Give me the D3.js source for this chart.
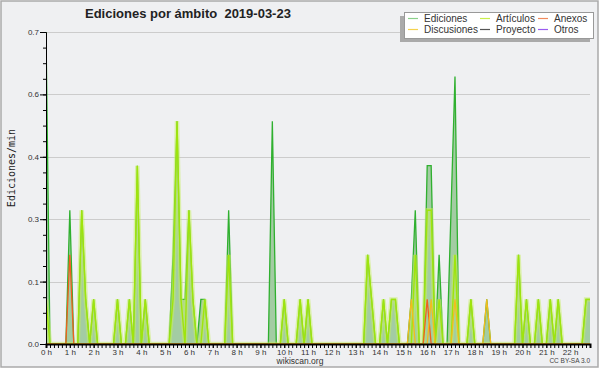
<!DOCTYPE html>
<html>
<head>
<meta charset="utf-8">
<script src="https://cdn.jsdelivr.net/npm/d3@7"></script>
<style>
  body { margin: 0; background: #fff; }
  svg { display: block; }
</style>
</head>
<body>
<div id="chart"></div>
<script>
const width = 600;
const height = 370;

// edits per minute, one value per 10-minute slot (00:00 .. 22:50)
const ediciones = [
  0.7, 0, 0, 0, 0, 0, 0.3, 0, 0, 0.3, 0.1, 0,
  0.1, 0, 0, 0, 0, 0, 0.1, 0, 0, 0.1, 0, 0.4,
  0, 0.1, 0, 0, 0, 0, 0, 0, 0.2, 0.5, 0.1, 0.1,
  0.3, 0.1, 0, 0.1, 0.1, 0, 0, 0, 0, 0, 0.3, 0,
  0, 0, 0, 0, 0, 0, 0, 0, 0, 0.5, 0, 0,
  0.1, 0, 0, 0, 0.1, 0, 0.1, 0, 0, 0, 0, 0,
  0, 0, 0, 0, 0, 0, 0, 0, 0, 0.2, 0.1, 0,
  0, 0.1, 0, 0.1, 0.1, 0, 0, 0, 0.1, 0.3, 0, 0,
  0.4, 0.4, 0, 0.2, 0, 0, 0.3, 0.6, 0, 0, 0, 0.1,
  0, 0, 0, 0.1, 0, 0, 0, 0, 0, 0, 0, 0.2,
  0, 0.1, 0, 0, 0.1, 0, 0, 0.1, 0, 0.1, 0, 0,
  0, 0, 0, 0, 0.1, 0.1
];
const articulos = [
  0.1, 0, 0, 0, 0, 0, 0, 0, 0, 0.3, 0.1, 0,
  0.1, 0, 0, 0, 0, 0, 0.1, 0, 0, 0.1, 0, 0.4,
  0, 0.1, 0, 0, 0, 0, 0, 0, 0.1, 0.5, 0.1, 0,
  0.3, 0.1, 0, 0, 0.1, 0, 0, 0, 0, 0, 0.2, 0,
  0, 0, 0, 0, 0, 0, 0, 0, 0, 0, 0, 0,
  0.1, 0, 0, 0, 0.1, 0, 0.1, 0, 0, 0, 0, 0,
  0, 0, 0, 0, 0, 0, 0, 0, 0, 0.2, 0.1, 0,
  0, 0.1, 0, 0.1, 0.1, 0, 0, 0, 0, 0.2, 0, 0,
  0.3, 0.3, 0, 0.1, 0, 0, 0, 0.2, 0, 0, 0, 0.1,
  0, 0, 0, 0, 0, 0, 0, 0, 0, 0, 0, 0.2,
  0, 0.1, 0, 0, 0.1, 0, 0, 0.1, 0, 0.1, 0, 0,
  0, 0, 0, 0, 0.1, 0.1
];
const anexos = [
  0, 0, 0, 0, 0, 0, 0.2, 0, 0, 0, 0, 0,
  0, 0, 0, 0, 0, 0, 0, 0, 0, 0, 0, 0,
  0, 0, 0, 0, 0, 0, 0, 0, 0, 0, 0, 0,
  0, 0, 0, 0, 0, 0, 0, 0, 0, 0, 0, 0,
  0, 0, 0, 0, 0, 0, 0, 0, 0, 0, 0, 0,
  0, 0, 0, 0, 0, 0, 0, 0, 0, 0, 0, 0,
  0, 0, 0, 0, 0, 0, 0, 0, 0, 0, 0, 0,
  0, 0, 0, 0, 0, 0, 0, 0, 0, 0, 0, 0,
  0.1, 0, 0, 0, 0, 0, 0, 0, 0, 0, 0, 0,
  0, 0, 0, 0, 0, 0, 0, 0, 0, 0, 0, 0,
  0, 0, 0, 0, 0, 0, 0, 0, 0, 0, 0, 0,
  0, 0, 0, 0, 0, 0
];
const discusiones = [
  0, 0, 0, 0, 0, 0, 0, 0, 0, 0, 0, 0,
  0, 0, 0, 0, 0, 0, 0, 0, 0, 0, 0, 0,
  0, 0, 0, 0, 0, 0, 0, 0, 0, 0, 0, 0,
  0, 0, 0, 0, 0, 0, 0, 0, 0, 0, 0, 0,
  0, 0, 0, 0, 0, 0, 0, 0, 0, 0, 0, 0,
  0, 0, 0, 0, 0, 0, 0, 0, 0, 0, 0, 0,
  0, 0, 0, 0, 0, 0, 0, 0, 0, 0, 0, 0,
  0, 0, 0, 0, 0, 0, 0, 0, 0.1, 0, 0, 0,
  0, 0.1, 0, 0, 0, 0, 0, 0.1, 0, 0, 0, 0,
  0, 0, 0, 0.1, 0, 0, 0, 0, 0, 0, 0, 0,
  0, 0, 0, 0, 0, 0, 0, 0, 0, 0, 0, 0,
  0, 0, 0, 0, 0, 0
];
// no edits for these two on that day
const proyecto = [];
const otros = [];

const hourLabels = ["0 h", "1 h", "2 h", "3 h", "4 h", "5 h", "6 h", "7 h", "8 h", "9 h", "10 h", "11 h",
  "12 h", "13 h", "14 h", "15 h", "16 h", "17 h", "18 h", "19 h", "20 h", "21 h", "22 h"];
const yTicks = [0, 0.14, 0.28, 0.42, 0.56, 0.7];

const legendItems = [
  { name: "Ediciones", color: "#8ad08a" },
  { name: "Artículos", color: "#c9ee4c" },
  { name: "Anexos", color: "#f08a5c" },
  { name: "Discusiones", color: "#f5d24e" },
  { name: "Proyecto", color: "#555555" },
  { name: "Otros", color: "#9a5cf0" }
];

const margin = { left: 46, right: 10, top: 32, bottom: 26 };
const plotRight = 590;
const plotBottom = 344;

const svg = d3.select("#chart")
  .append("svg")
  .attr("width", width)
  .attr("height", height);

// frame
svg.append("rect")
  .attr("x", 1).attr("y", 1)
  .attr("width", 597).attr("height", 366)
  .attr("fill", "#eff0f2")
  .attr("stroke", "#aaaaaa")
  .attr("stroke-width", 1.5);

const x = d3.scaleLinear()
  .domain([0, ediciones.length - 1])
  .range([margin.left, plotRight]);

const y = d3.scaleLinear()
  .domain([0, 0.7])
  .range([plotBottom, margin.top]);

// horizontal grid
svg.append("g")
  .selectAll("line")
  .data(yTicks.filter(d => d > 0))
  .join("line")
  .attr("x1", margin.left)
  .attr("x2", plotRight)
  .attr("y1", d => Math.round(y(d)) + 0.5)
  .attr("y2", d => Math.round(y(d)) + 0.5)
  .attr("stroke", "#cccccc")
  .attr("stroke-width", 1);

svg.append("clipPath")
  .attr("id", "plotclip")
  .append("rect")
  .attr("x", margin.left).attr("y", margin.top - 1)
  .attr("width", plotRight - margin.left).attr("height", plotBottom - margin.top + 1);

const plot = svg.append("g").attr("clip-path", "url(#plotclip)");

const area = d3.area()
  .x((d, i) => x(i))
  .y0(y(0))
  .y1(d => y(d));

const line = d3.line()
  .x((d, i) => x(i))
  .y(d => y(d));

// total edits, filled
plot.append("path")
  .datum(ediciones)
  .attr("d", area)
  .attr("fill", "#a3cca3");

plot.append("path")
  .datum(ediciones)
  .attr("d", line)
  .attr("fill", "none")
  .attr("stroke", "#2fb02f")
  .attr("stroke-width", 1.3);

// articles: soft glow + bright core
plot.append("path")
  .datum(articulos)
  .attr("d", line)
  .attr("fill", "none")
  .attr("stroke", "#c8f060")
  .attr("stroke-opacity", 0.5)
  .attr("stroke-width", 4.5);

plot.append("path")
  .datum(articulos)
  .attr("d", line)
  .attr("fill", "none")
  .attr("stroke", "#9fe40c")
  .attr("stroke-width", 1.4);

const others = [
  { data: anexos, color: "#f0601e" },
  { data: discusiones, color: "#f2bc1e" },
  { data: proyecto, color: "#555555" },
  { data: otros, color: "#9a5cf0" }
];

others.forEach(s => {
  if (!s.data.length) return;
  plot.append("path")
    .datum(s.data)
    .attr("d", line)
    .attr("fill", "none")
    .attr("stroke", s.color)
    .attr("stroke-width", 1.3);
});

// y axis
const fmt = d3.format(".1f");
const yAxis = svg.append("g")
  .attr("transform", `translate(${margin.left},0)`)
  .call(d3.axisLeft(y).tickValues(yTicks).tickSize(6).tickPadding(1).tickFormat(fmt));

const yMinor = svg.append("g")
  .attr("transform", `translate(${margin.left},0)`)
  .call(d3.axisLeft(y).tickValues(d3.range(0, 0.7001, 0.035)).tickSize(3).tickFormat(""));

// x axis: a tick every 10 minutes, labels every hour
const xMinor = svg.append("g")
  .attr("transform", `translate(0,${plotBottom})`)
  .call(d3.axisBottom(x).tickValues(d3.range(ediciones.length)).tickSize(4).tickFormat(""));

const xAxis = svg.append("g")
  .attr("transform", `translate(0,${plotBottom})`)
  .call(d3.axisBottom(x)
    .tickValues(hourLabels.map((d, i) => i * 6))
    .tickSize(4)
    .tickPadding(1)
    .tickFormat((d, i) => hourLabels[i]));

[yAxis, yMinor, xMinor, xAxis].forEach(g => {
  g.selectAll("text")
    .attr("font-family", "Liberation Sans, Arial, sans-serif")
    .attr("font-size", 8)
    .attr("fill", "#333");
  g.selectAll("line").attr("stroke", "#000");
  g.select(".domain").attr("stroke", "#000");
});
yMinor.select(".domain").remove();
xMinor.select(".domain").remove();
xAxis.select(".domain").attr("stroke-width", 2);

// titles
svg.append("text")
  .attr("x", 85).attr("y", 18)
  .attr("font-family", "Liberation Sans, Arial, sans-serif")
  .attr("font-size", 13)
  .attr("font-weight", "bold")
  .attr("fill", "#222")
  .style("white-space", "pre")
  .text("Ediciones por ámbito  2019-03-23");

svg.append("text")
  .attr("transform", "translate(15,168) rotate(-90)")
  .attr("text-anchor", "middle")
  .attr("font-family", "DejaVu Sans Mono, monospace")
  .attr("font-size", 10)
  .attr("fill", "#222")
  .text("Ediciones/min");

svg.append("text")
  .attr("x", 300).attr("y", 364)
  .attr("text-anchor", "middle")
  .attr("font-family", "Liberation Sans, Arial, sans-serif")
  .attr("font-size", 8.5)
  .attr("fill", "#333")
  .text("wikiscan.org");

svg.append("text")
  .attr("x", 590).attr("y", 363)
  .attr("text-anchor", "end")
  .attr("font-family", "Liberation Sans, Arial, sans-serif")
  .attr("font-size", 6.5)
  .attr("fill", "#444")
  .text("CC BY-SA 3.0");

// legend
const legend = svg.append("g");
legend.append("rect")
  .attr("x", 400).attr("y", 16)
  .attr("width", 190).attr("height", 26)
  .attr("fill", "#aaaaaa");
legend.append("rect")
  .attr("x", 404.5).attr("y", 12.5)
  .attr("width", 189).attr("height", 26)
  .attr("fill", "#ffffff")
  .attr("stroke", "#999999");

const colX = [408, 480, 538];
const rowY = [18.5, 29.5];
legendItems.forEach((d, i) => {
  const cx = colX[i % 3];
  const cy = rowY[Math.floor(i / 3)];
  legend.append("line")
    .attr("x1", cx).attr("x2", cx + 10)
    .attr("y1", cy).attr("y2", cy)
    .attr("stroke", d.color)
    .attr("stroke-width", 1.2);
  legend.append("text")
    .attr("x", cx + 16).attr("y", cy + 3.5)
    .attr("font-family", "Liberation Sans, Arial, sans-serif")
    .attr("font-size", 10)
    .attr("fill", "#333")
    .text(d.name);
});
</script>
</body>
</html>
